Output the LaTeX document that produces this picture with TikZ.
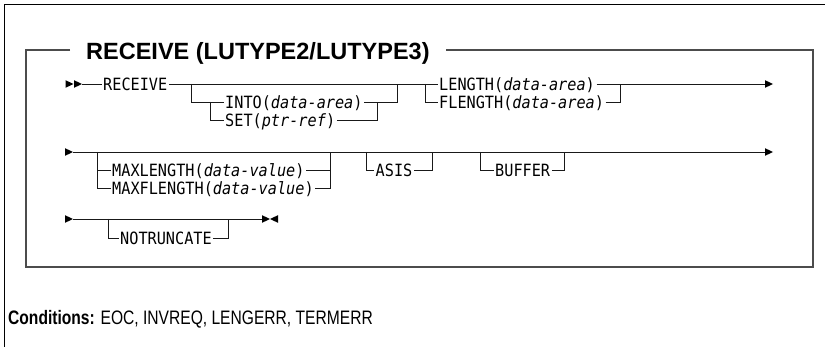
\documentclass[tikz,border=0pt]{standalone}
\usepackage{fontspec}
\setsansfont{Liberation Sans}
\newfontfamily\synfont[FakeStretch=0.9]{DejaVu Sans Mono}
\usepackage{graphicx}
\tikzset{
  syn/.style={line width=0.9pt, draw=black!90},
  boxline/.style={line width=1.5pt, draw=black!70},
  frameline/.style={line width=1pt, draw=black},
  lbl/.style={font=\synfont\fontsize{16.9}{16.9}\selectfont, inner xsep=1.5pt, inner ysep=0pt,
              text height=12.3pt, text depth=0pt, anchor=west},
  tipfill/.style={fill=black}
}
\newcommand{\tipR}[1]{\fill[tipfill] (#1) -- ++(-8,-3.8) -- ++(0,7.6) -- cycle;}
\newcommand{\tipL}[1]{\fill[tipfill] (#1) -- ++(8,-3.8) -- ++(0,7.6) -- cycle;}
\begin{document}
\begin{tikzpicture}[x=1pt,y=-1pt]
\useasboundingbox (0,0) rectangle (825,347);
% outer frame
\draw[frameline] (825,5) -- (4,5) -- (4,347);
% title and inner box
\node[font=\sffamily\bfseries\fontsize{23.5}{23.5}\selectfont, inner sep=0pt, anchor=base west] (title) at (86,60) {RECEIVE (LUTYPE2/LUTYPE3)};
\draw[boxline] ([xshift=-16pt]title.west |- 0,50) -- (26,50) -- (26,267) -- (813,267) -- (813,50) -- ([xshift=16pt]title.east |- 0,50);

% ---------- Row 1 ----------
\coordinate (r0a) at (73.5,84);
\coordinate (r0s) at (82,84);
\coordinate (r0e) at (773,84);
\tipR{r0a}
\tipR{r0s}
\node[lbl] (receive) at (101.5,84) {RECEIVE};
\node[lbl] (into) at (223.5,102) {INTO(\textit{data-area})};
\node[lbl] (set) at (223.5,120) {SET(\textit{ptr-ref})};
\node[lbl] (length) at (437.5,84) {LENGTH(\textit{data-area})};
\node[lbl] (flength) at (437.5,102) {FLENGTH(\textit{data-area})};
\coordinate (g1l) at (191,84);
\coordinate (g1i) at (210,102);
\coordinate (g1r) at (397,84);
\coordinate (g1ir) at (377,102);
\coordinate (g2l) at (425,84);
\coordinate (g2r) at (620,84);
\draw[syn] (r0s) -- (receive.west);
\draw[syn] (receive.east) -- (length.west);
\draw[syn] (length.east) -- ([xshift=-7pt]r0e);
\tipR{r0e}
\draw[syn] (g1l) |- (into.west);
\draw[syn] (g1i) |- (set.west);
\draw[syn] (into.east) -| (g1r);
\draw[syn] (set.east) -| (g1ir);
\draw[syn] (g2l) |- (flength.west);
\draw[syn] (flength.east) -| (g2r);

% ---------- Row 2 ----------
\coordinate (r1s) at (73,152);
\coordinate (r1e) at (773,152);
\tipR{r1s}
\draw[syn] (r1s) -- ([xshift=-7pt]r1e);
\tipR{r1e}
\node[lbl] (maxl) at (110.5,170) {MAXLENGTH(\textit{data-value})};
\node[lbl] (maxf) at (110.5,188) {MAXFLENGTH(\textit{data-value})};
\node[lbl] (asis) at (374,170) {ASIS};
\node[lbl] (buffer) at (493.5,170) {BUFFER};
\coordinate (m1) at (97,152);
\coordinate (m1b) at (97,170);
\coordinate (m2) at (330,152);
\coordinate (m2b) at (330,170);
\coordinate (a1) at (366,152);
\coordinate (a2) at (432,152);
\coordinate (b1) at (480,152);
\coordinate (b2) at (564,152);
\draw[syn] (m1) |- (maxf.west);
\draw[syn] (m1b) -- (maxl.west);
\draw[syn] (maxl.east) -- (m2b);
\draw[syn] (maxf.east) -| (m2);
\draw[syn] (a1) |- (asis.west);
\draw[syn] (asis.east) -| (a2);
\draw[syn] (b1) |- (buffer.west);
\draw[syn] (buffer.east) -| (b2);

% ---------- Row 3 ----------
\coordinate (r2s) at (73,219);
\coordinate (r2e) at (270,219);
\tipR{r2s}
\draw[syn] (r2s) -- ([xshift=-7pt]r2e);
\tipR{r2e}
\tipL{r2e}
\node[lbl] (notr) at (118.5,238) {NOTRUNCATE};
\coordinate (n1) at (108,219);
\coordinate (n2) at (228,219);
\draw[syn] (n1) |- (notr.west);
\draw[syn] (notr.east) -| (n2);

% ---------- Conditions ----------
\node[inner sep=0pt, anchor=base west, font=\sffamily\fontsize{19.5}{19.5}\selectfont] (cond) at (8,325)
  {\scalebox{0.8}[1]{\textbf{Conditions:} EOC, INVREQ, LENGERR, TERMERR}};
\end{tikzpicture}
\end{document}
